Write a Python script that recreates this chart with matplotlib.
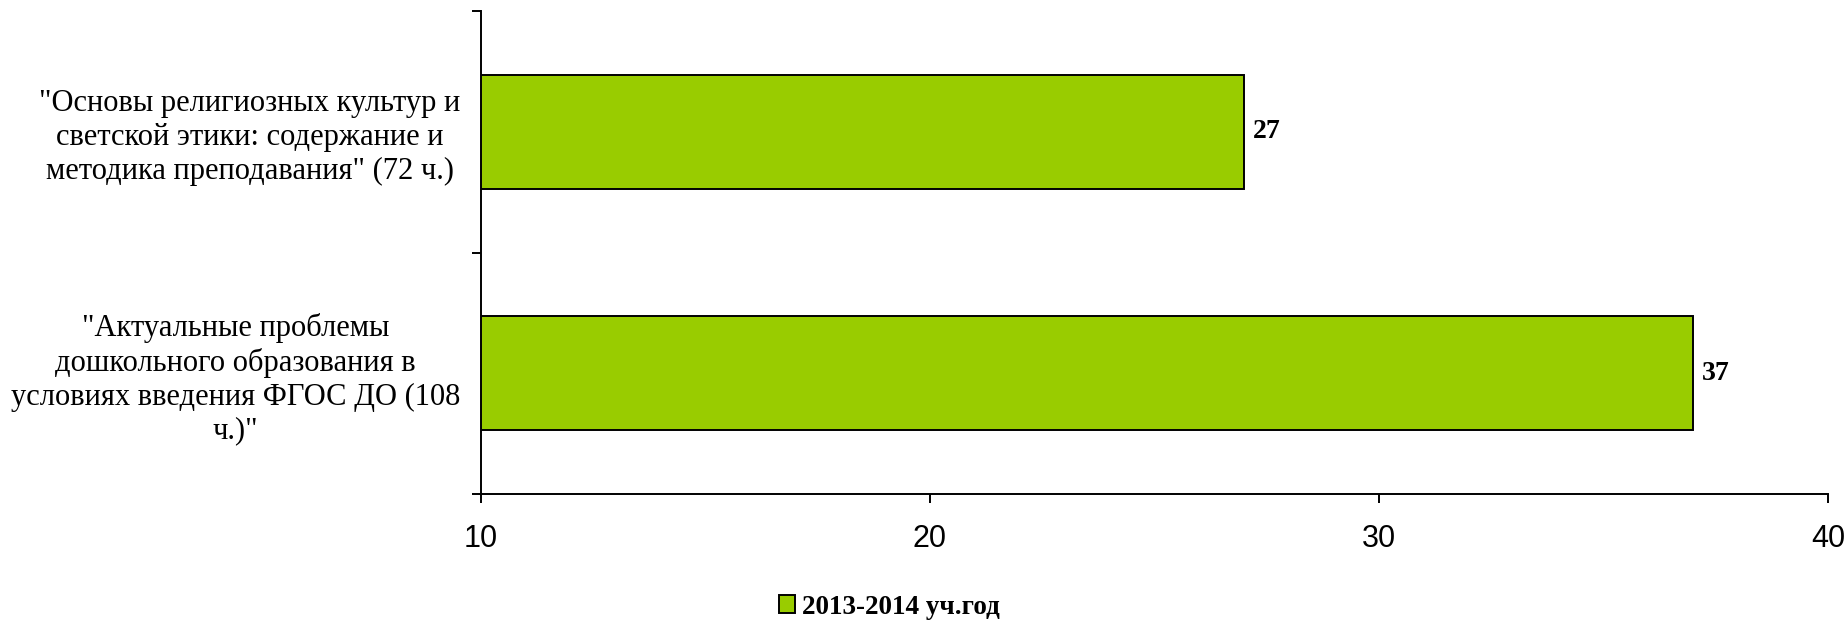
import matplotlib
matplotlib.use("Agg")
import matplotlib.pyplot as plt
from matplotlib.patches import Patch

categories = [
    '"Основы религиозных культур и\nсветской этики: содержание и\nметодика преподавания" (72 ч.)',
    '"Актуальные проблемы\nдошкольного образования в\nусловиях введения ФГОС ДО (108\nч.)"',
]
values = [27, 37]
series_name = "2013-2014 уч.год"
xticks = [10, 20, 30, 40]

bar_color = "#99CC00"

fig = plt.figure(figsize=(18.47, 6.22), dpi=100)
ax = fig.add_axes([481/1847, 1-494/622, (1828-481)/1847, (494-11)/622])

ypos = list(range(len(categories)))
bars = ax.barh(ypos, values, height=0.47, left=0, color=bar_color,
               edgecolor="black", linewidth=1.4)

ax.set_xlim(10, 40)
ax.set_ylim(len(categories)-0.5, -0.5)
ax.set_xticks(xticks)
ax.set_xticklabels([str(t) for t in xticks], fontfamily="Liberation Sans", fontsize=22)

# category ticks at boundaries
ax.set_yticks([i - 0.5 for i in range(len(categories)+1)])
ax.set_yticklabels([])
ax.set_yticks(ypos, minor=True)
ax.set_yticklabels(categories, minor=True, fontfamily="Liberation Serif",
                   fontsize=22, multialignment="center", linespacing=1.22)
ax.tick_params(axis="y", which="minor", length=0, pad=15)
ax.tick_params(axis="y", which="major", length=6.5, width=1.4, direction="out")
ax.tick_params(axis="x", which="major", length=6.5, width=1.4, direction="out", pad=15)

for s in ["top", "right"]:
    ax.spines[s].set_visible(False)
for s in ["left", "bottom"]:
    ax.spines[s].set_linewidth(1.4)

for y, v in zip(ypos, values):
    ax.text(v + 0.2, y, str(v), va="center", ha="left",
            fontfamily="Liberation Serif", fontweight="bold", fontsize=20)

handle = Patch(facecolor=bar_color, edgecolor="black", linewidth=1.4)
fig.legend([handle], [series_name], loc="center",
           bbox_to_anchor=(889/1847, 1-607/622), frameon=False,
           prop={"family": "Liberation Serif", "weight": "bold", "size": 19.5},
           handlelength=0.6, handleheight=0.6, handletextpad=0.25,
           borderpad=0, borderaxespad=0)

fig.savefig("out.png", dpi=100)
